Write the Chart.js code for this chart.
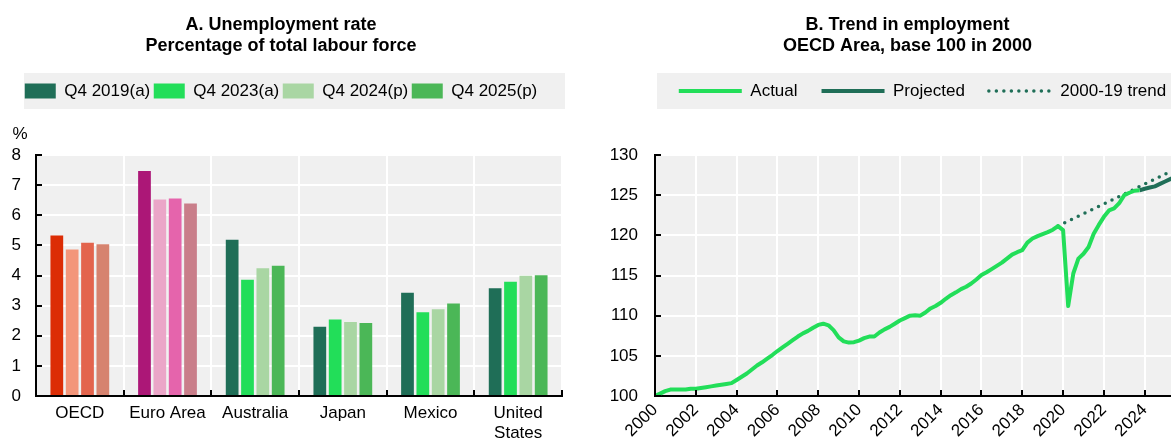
<!DOCTYPE html>
<html lang="en">
<head>
  <meta charset="UTF-8">
  <title>Unemployment and employment</title>
  <script src="https://cdn.jsdelivr.net/npm/chart.js"></script>
  <style>
    html, body {
      margin: 0;
      padding: 0;
      background: #fff;
      overflow: hidden;
    }
    #panelA {
      position: absolute;
      left: 0;
      top: 0;
    }
    #panelB {
      position: absolute;
      left: 585px;
      top: 0;
    }
  </style>
</head>
<body>
  <canvas id="panelA" width="585" height="442"></canvas>
  <canvas id="panelB" width="650" height="442"></canvas>

  <script>
    // Panel A data
    const categories = ['OECD', 'Euro Area', 'Australia', 'Japan', 'Mexico', ['United', 'States']];
    const seriesLabels = ['Q4 2019(a)', 'Q4 2023(a)', 'Q4 2024(p)', 'Q4 2025(p)'];
    const q4_2019 = [5.33, 7.47, 5.19, 2.30, 3.43, 3.58];
    const q4_2023 = [4.86, 6.52, 3.86, 2.54, 2.78, 3.79];
    const q4_2024 = [5.09, 6.56, 4.24, 2.46, 2.88, 3.99];
    const q4_2025 = [5.04, 6.39, 4.32, 2.42, 3.07, 4.01];
    const yTicksA = [0, 1, 2, 3, 4, 5, 6, 7, 8];

    // Panel B data (quarterly, first quarter of each series given by its start)
    const actualStart = 2000;
    const actual = [
      100.0, 100.3, 100.6, 100.8,
      100.8, 100.8, 100.8, 100.9,
      100.9, 101.0, 101.1, 101.2,
      101.3, 101.4, 101.5, 101.6,
      102.0, 102.4, 102.8, 103.3,
      103.8, 104.2, 104.65, 105.1,
      105.6, 106.05, 106.5, 106.95,
      107.4, 107.8, 108.1, 108.5,
      108.85, 109.0, 108.8, 108.2,
      107.3, 106.8, 106.65, 106.7,
      106.9, 107.2, 107.4, 107.4,
      107.9, 108.3, 108.6, 109.0,
      109.4, 109.7, 110.0, 110.05,
      110.0, 110.4, 110.9, 111.2,
      111.6, 112.1, 112.55, 112.9,
      113.3, 113.6, 114.0, 114.5,
      115.05, 115.4, 115.8, 116.2,
      116.6, 117.1, 117.6, 117.9,
      118.15, 119.1, 119.6, 119.9,
      120.15, 120.4, 120.7, 121.15,
      120.65, 111.2, 115.25, 117.1,
      117.7, 118.55, 120.2, 121.3,
      122.3, 123.1, 123.35, 124.0,
      125.0, 125.3, 125.55, 125.6
    ];
    const projectedStart = 2023.75;
    const projected = [125.6, 125.8, 125.95, 126.1, 126.4, 126.7, 127.0, 127.3, 127.6];
    const trendStart = 2019.75;
    const trend = [
      121.15, 121.46, 121.77, 122.07, 122.38, 122.69, 123.0, 123.3,
      123.61, 123.92, 124.23, 124.53, 124.84, 125.15, 125.46, 125.76,
      126.07, 126.38, 126.69, 126.99, 127.3, 127.61, 127.92, 128.22, 128.53
    ];
    const yearTicks = [2000, 2002, 2004, 2006, 2008, 2010, 2012, 2014, 2016, 2018, 2020, 2022, 2024];
    const yTicksB = [100, 105, 110, 115, 120, 125, 130];

    // colours
    const oecdColors = ['#DC2D05', '#F3967A', '#E3644D', '#D6836F'];
    const euroColors = ['#AC1777', '#EBA6C8', '#E564AC', '#C97E8A'];
    const otherColors = ['#1F6E57', '#22DE59', '#A9D6A3', '#4BB757'];
    const plotBg = '#F0F0F0';
    const fontFamily = "'Liberation Sans', Arial, sans-serif";

    Chart.defaults.font.family = fontFamily;
    Chart.defaults.font.size = 17;
    Chart.defaults.color = '#000';
    Chart.defaults.animation = false;

    function barColors(seriesIndex) {
      return categories.map((c, i) => {
        if (i === 0) return oecdColors[seriesIndex];
        if (i === 1) return euroColors[seriesIndex];
        return otherColors[seriesIndex];
      });
    }

    function toPoints(start, values) {
      return values.map((v, i) => ({ x: start + i / 4, y: v }));
    }

    // grey plot area, grey legend band, inward tick marks, unit label
    const decor = {
      id: 'decor',
      afterLayout(chart) {
        const shift = chart.options.plugins.decor.legendShift || 0;
        chart.legend.left += shift;
        chart.legend.right += shift;
      },
      beforeDraw(chart) {
        const ctx = chart.ctx;
        const a = chart.chartArea;
        const o = chart.options.plugins.decor;
        const hb = chart.legend.legendHitBoxes[0];
        const cy = hb.top + 8.5;
        ctx.save();
        ctx.fillStyle = plotBg;
        ctx.fillRect(a.left + o.bandLeft, cy - 18, a.right - a.left - o.bandLeft + o.bandRight, 36);
        ctx.fillRect(a.left, a.top, a.right - a.left, a.bottom - a.top);
        ctx.restore();
      },
      afterDraw(chart) {
        const ctx = chart.ctx;
        const a = chart.chartArea;
        const xs = chart.scales.x;
        const ys = chart.scales.y;
        ctx.save();
        ctx.strokeStyle = '#000';
        ctx.lineWidth = 2;
        ctx.beginPath();
        ys.ticks.forEach(t => {
          const y = Math.round(ys.getPixelForValue(t.value));
          ctx.moveTo(a.left, y);
          ctx.lineTo(a.left + 6, y);
        });
        if (xs.type === 'category') {
          const n = xs.ticks.length;
          for (let i = 1; i <= n; i++) {
            const x = Math.round(a.left + (a.right - a.left) * i / n);
            ctx.moveTo(x, a.bottom);
            ctx.lineTo(x, a.bottom - 6);
          }
        } else {
          xs.ticks.forEach(t => {
            const x = Math.round(xs.getPixelForValue(t.value));
            ctx.moveTo(x, a.bottom);
            ctx.lineTo(x, a.bottom - 6);
          });
        }
        ctx.stroke();
        if (chart.options.plugins.decor.unit) {
          ctx.fillStyle = '#000';
          ctx.font = '17px ' + fontFamily;
          ctx.textAlign = 'center';
          ctx.textBaseline = 'alphabetic';
          ctx.fillText(chart.options.plugins.decor.unit, 20, a.top - 16);
        }
        ctx.restore();
      }
    };

    // empty subtitle used as a spacer between legend and plot
    const spacer = {
      display: true,
      text: '',
      weight: 500,
      font: { size: 10, lineHeight: '10px' },
      padding: { top: 35.5, bottom: 0 }
    };

    // Panel A: grouped bars
    const barSeries = [q4_2019, q4_2023, q4_2024, q4_2025];
    new Chart(document.getElementById('panelA'), {
      type: 'bar',
      data: {
        labels: categories,
        datasets: barSeries.map((values, k) => ({
          label: seriesLabels[k],
          data: values,
          backgroundColor: barColors(k),
          borderWidth: 0,
          categoryPercentage: 0.7,
          barPercentage: 0.83
        }))
      },
      options: {
        responsive: false,
        layout: { padding: { top: 0, left: 0, right: 23, bottom: 0 } },
        plugins: {
          title: {
            display: true,
            text: ['A. Unemployment rate', 'Percentage of total labour force'],
            font: { size: 18, weight: 'bold', lineHeight: '21px' },
            padding: { top: 14.5, bottom: 22.5 }
          },
          subtitle: spacer,
          legend: {
            align: 'center',
            labels: {
              boxWidth: 31,
              boxHeight: 15,
              padding: 3.5,
              generateLabels: chart => chart.data.datasets.map((ds, i) => ({
                text: ds.label,
                fillStyle: otherColors[i],
                strokeStyle: otherColors[i],
                lineWidth: 0,
                hidden: false,
                datasetIndex: i
              }))
            }
          },
          tooltip: { enabled: false },
          decor: { unit: '%', bandLeft: -12, bandRight: 3, legendShift: 0 }
        },
        scales: {
          x: {
            grid: { color: '#fff', lineWidth: 2, drawTicks: false, offset: true },
            border: { color: '#000', width: 2 },
            ticks: { padding: 7, maxRotation: 0, autoSkip: false },
            afterFit: s => { s.height = 46; }
          },
          y: {
            min: 0,
            max: 8,
            afterBuildTicks: s => { s.ticks = yTicksA.map(v => ({ value: v })); },
            grid: { color: '#fff', lineWidth: 2, drawTicks: false },
            border: { color: '#000', width: 2 },
            ticks: { padding: 15 },
            afterFit: s => { s.width = 36; }
          }
        }
      },
      plugins: [decor]
    });

    // Panel B: employment trend
    new Chart(document.getElementById('panelB'), {
      type: 'line',
      data: {
        datasets: [
          {
            label: 'Actual',
            data: toPoints(actualStart, actual),
            borderColor: '#22DE59',
            backgroundColor: '#22DE59',
            borderWidth: 4,
            borderJoinStyle: 'round',
            pointRadius: 0,
            tension: 0
          },
          {
            label: 'Projected',
            data: toPoints(projectedStart, projected),
            borderColor: '#1F6E57',
            backgroundColor: '#1F6E57',
            borderWidth: 4,
            borderJoinStyle: 'round',
            pointRadius: 0,
            tension: 0
          },
          {
            label: '2000-19 trend',
            data: toPoints(trendStart, trend),
            borderColor: '#1F6E57',
            backgroundColor: '#1F6E57',
            borderWidth: 3.5,
            borderDash: [0, 7.5],
            borderCapStyle: 'round',
            pointRadius: 0,
            tension: 0
          }
        ]
      },
      options: {
        responsive: false,
        layout: { padding: { top: 0, left: 20, right: 25, bottom: 0 } },
        plugins: {
          title: {
            display: true,
            text: ['B. Trend in employment', 'OECD Area, base 100 in 2000'],
            font: { size: 18, weight: 'bold', lineHeight: '21px' },
            padding: { top: 14.5, bottom: 2 }
          },
          subtitle: spacer,
          legend: {
            align: 'center',
            labels: {
              usePointStyle: true,
              pointStyleWidth: 63,
              padding: 24,
              generateLabels: chart => chart.data.datasets.map((ds, i) => ({
                text: ds.label,
                fillStyle: ds.borderColor,
                strokeStyle: ds.borderColor,
                lineWidth: ds.borderWidth,
                lineDash: ds.borderDash || [],
                lineCap: ds.borderCapStyle || 'butt',
                pointStyle: 'line',
                hidden: false,
                datasetIndex: i
              }))
            }
          },
          tooltip: { enabled: false },
          decor: { unit: null, bandLeft: 2, bandRight: 60, legendShift: 15 }
        },
        scales: {
          x: {
            type: 'linear',
            min: 2000,
            max: 2027.2,
            afterBuildTicks: s => { s.ticks = yearTicks.map(v => ({ value: v })); },
            grid: { color: '#fff', lineWidth: 2, drawTicks: false },
            border: { color: '#000', width: 2 },
            ticks: { padding: 4, minRotation: 45, maxRotation: 45, callback: v => String(v) },
            afterFit: s => { s.height = 46; }
          },
          y: {
            min: 100,
            max: 130,
            afterBuildTicks: s => { s.ticks = yTicksB.map(v => ({ value: v })); },
            grid: { color: '#fff', lineWidth: 2, drawTicks: false },
            border: { color: '#000', width: 2 },
            ticks: { padding: 17 },
            afterFit: s => { s.width = 50; }
          }
        }
      },
      plugins: [decor]
    });
  </script>
</body>
</html>
